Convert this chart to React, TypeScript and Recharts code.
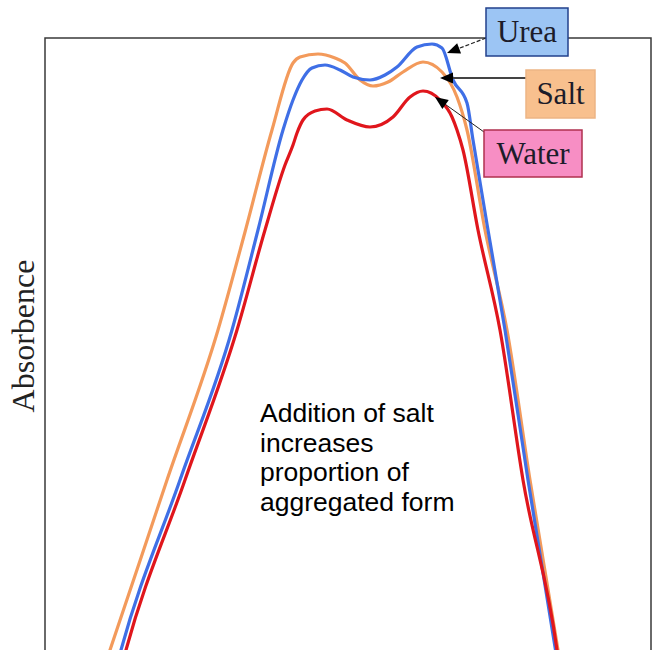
import { LineChart, Line, XAxis, YAxis, ReferenceArea, ReferenceDot, ReferenceLine } from 'recharts';

// Wavelength (nm, arbitrary scale) vs absorbance
const saltNm = [376, 382.5, 411, 436.5, 450, 463.5, 474, 477.5, 486.5, 495, 500, 507.5, 514, 521.5, 529, 539, 548.5, 556, 561, 570, 581, 592.5, 606.5, 609.5];
const saltAbs = [0, 0.076, 0.416, 0.716, 0.912, 1.116, 1.25, 1.262, 1.268, 1.26, 1.25, 1.216, 1.204, 1.212, 1.232, 1.252, 1.232, 1.182, 1.116, 0.916, 0.716, 0.416, 0.076, 0];

const ureaNm = [383, 388, 417.5, 443.5, 456.5, 469, 474, 478.5, 483.5, 490, 497.5, 504, 512.5, 520, 526, 536, 543.5, 548.5, 554, 561, 564, 571.5, 580, 591.5, 605, 608.5];
const ureaAbs = [0, 0.076, 0.416, 0.716, 0.916, 1.116, 1.176, 1.216, 1.24, 1.246, 1.236, 1.222, 1.216, 1.226, 1.242, 1.282, 1.288, 1.28, 1.216, 1.17, 1.096, 0.916, 0.716, 0.416, 0.082, 0];

const waterNm = [385.5, 390.5, 420, 446, 460, 470, 474, 476, 479, 485, 491, 501, 512.5, 524, 532.5, 539, 547.5, 553.5, 556, 559, 566.5, 577.5, 589, 606, 608.5];
const waterAbs = [0, 0.076, 0.416, 0.716, 0.916, 1.046, 1.086, 1.11, 1.136, 1.154, 1.158, 1.136, 1.122, 1.142, 1.182, 1.194, 1.176, 1.142, 1.116, 1.076, 0.916, 0.716, 0.416, 0.076, 0];

const seriesNames = ['Salt', 'Urea', 'Water'];
const annotationLines = ['Addition of salt', 'increases', 'proportion of', 'aggregated form'];

const toPoints = (nm: number[], abs: number[]) => nm.map((x, i) => ({ x, y: abs[i] }));

const salt = toPoints(saltNm, saltAbs);
const urea = toPoints(ureaNm, ureaAbs);
const water = toPoints(waterNm, waterAbs);

const SERIF = '"Liberation Serif", "Times New Roman", serif';
const SANS = '"Liberation Sans", Arial, sans-serif';

// legend boxes + arrows (placed in chart coords)
const callouts = [
  { name: 'Urea', box: { x: 591, y: 1.312 }, w: 82, h: 48, fill: '#9CC5F4', stroke: '#22408C', from: { x: 570.5, y: 1.3 }, to: { x: 551, y: 1.27 }, dash: '4 2', lw: 1.2, lc: '#222' },
  { name: 'Salt', box: { x: 607.75, y: 1.188 }, w: 69, h: 48, fill: '#F8C08E', stroke: '#EDB585', from: { x: 590.5, y: 1.22 }, to: { x: 547.5, y: 1.22 }, dash: undefined, lw: 2, lc: '#444' },
  { name: 'Water', box: { x: 594, y: 1.069 }, w: 98, h: 47, fill: '#F78EC4', stroke: '#B0304F', from: { x: 569.5, y: 1.112 }, to: { x: 545, y: 1.182 }, dash: undefined, lw: 1, lc: '#222' },
];

const Arrow = (p: any) => {
  const { x1, y1, x2, y2, dash, lw, lc } = p;
  const ang = Math.atan2(y2 - y1, x2 - x1);
  const len = 13, half = 5.5;
  const bx = x2 - len * Math.cos(ang), by = y2 - len * Math.sin(ang);
  const px = -Math.sin(ang) * half, py = Math.cos(ang) * half;
  return (
    <g>
      <line x1={x1} y1={y1} x2={bx} y2={by} stroke={lc} strokeWidth={lw} strokeDasharray={dash} />
      <polygon points={`${x2},${y2} ${bx + px},${by + py} ${bx - px},${by - py}`} fill="#000" />
    </g>
  );
};

export default function App() {
  return (
    <div style={{ position: 'absolute', left: 0, top: 0, width: 657, height: 650, overflow: 'hidden', background: '#fff' }}>
      <LineChart width={657} height={700} margin={{ top: 38, right: 6, bottom: 12, left: 0 }}>
        <XAxis type="number" dataKey="x" domain={[350, 653]} hide allowDataOverflow />
        <YAxis
          type="number"
          domain={[0, 1.3]}
          width={45}
          tick={false}
          tickLine={false}
          axisLine={false}
          allowDataOverflow
          label={{
            content: () => (
              <text x={23} y={336} transform="rotate(-90 23 336)" textAnchor="middle" dominantBaseline="central"
                fontFamily={SERIF} fontSize={32} fill="#222">Absorbence</text>
            ),
          }}
        />
        <ReferenceArea x1={350} x2={653} y1={0} y2={1.3} fill="none" stroke="#3a3a3a" strokeWidth={1.5} ifOverflow="visible" />
        <Line data={salt} dataKey="y" name={seriesNames[0]} type="monotone" stroke="#F39A5B" strokeWidth={3.2} dot={false} isAnimationActive={false} />
        <Line data={urea} dataKey="y" name={seriesNames[1]} type="monotone" stroke="#3F6FE6" strokeWidth={3.2} dot={false} isAnimationActive={false} />
        <Line data={water} dataKey="y" name={seriesNames[2]} type="monotone" stroke="#E0161C" strokeWidth={3.2} dot={false} isAnimationActive={false} />
        {callouts.map((c) => (
          <ReferenceLine
            key={`arr-${c.name}`}
            segment={[c.from, c.to]}
            ifOverflow="visible"
            shape={(p: any) => <Arrow {...p} dash={c.dash} lw={c.lw} lc={c.lc} />}
          />
        ))}
        {callouts.map((c) => (
          <ReferenceDot
            key={`box-${c.name}`}
            x={c.box.x}
            y={c.box.y}
            ifOverflow="visible"
            shape={(p: any) => (
              <g>
                <rect x={p.cx - c.w / 2} y={p.cy - c.h / 2} width={c.w} height={c.h} fill={c.fill} stroke={c.stroke} strokeWidth={1.5} />
                <text x={p.cx} y={p.cy + 10} textAnchor="middle" fontFamily={SERIF} fontSize={31} fill="#1c1c2a">{c.name}</text>
              </g>
            )}
          />
        ))}
        <ReferenceDot
          x={457.5}
          y={0.532}
          ifOverflow="visible"
          shape={(p: any) => (
            <text x={p.cx} y={p.cy} fontFamily={SANS} fontSize={26.5} fill="#000">
              {annotationLines.map((t, i) => (
                <tspan key={t} x={p.cx} dy={i === 0 ? 0 : 29.5}>{t}</tspan>
              ))}
            </text>
          )}
        />
      </LineChart>
    </div>
  );
}
